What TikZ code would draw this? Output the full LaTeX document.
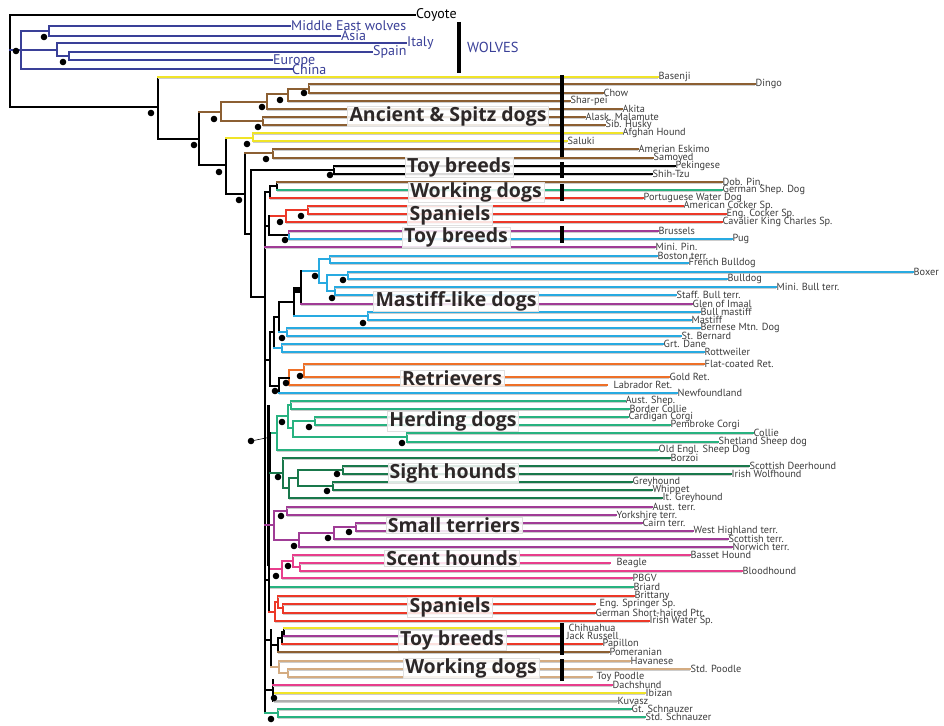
\documentclass[tikz,border=0pt]{standalone}
\usepackage{fontspec}
\setmainfont{PT Sans}
\newfontfamily\grpfont{Open Sans}
\definecolor{wolf}{RGB}{58,64,152}
\definecolor{yel}{RGB}{240,228,40}
\definecolor{brn}{RGB}{140,95,50}
\definecolor{grn}{RGB}{40,178,128}
\definecolor{dgr}{RGB}{25,120,75}
\definecolor{rd}{RGB}{236,56,40}
\definecolor{pur}{RGB}{160,60,150}
\definecolor{lbl}{RGB}{40,170,225}
\definecolor{org}{RGB}{238,112,40}
\definecolor{pnk}{RGB}{232,62,140}
\definecolor{tanc}{RGB}{212,172,130}
\definecolor{gry}{RGB}{175,175,175}
\definecolor{txt}{RGB}{60,60,60}
\definecolor{grpc}{RGB}{45,40,40}
\tikzset{
  br/.style={line width=1.7pt, line cap=rect},
  shd/.style={line width=0.9pt, black!20},
  lab/.style={font=\fontsize{10.3}{10}\selectfont, text=txt, anchor=west, inner sep=0.5pt},
  wlab/.style={font=\fontsize{14}{14}\selectfont, text=wolf, anchor=west, inner sep=1pt},
  grp/.style={font=\grpfont\bfseries\fontsize{19.5}{20}\selectfont, text=grpc, fill=white, fill opacity=0.85, text opacity=1, draw=black!12, line width=0.4pt, inner xsep=2pt, inner ysep=0.5pt},
  barline/.style={line width=4pt},
}
\newcommand\lf[7][]{\node[lab,#1] (#2) at (#5,#3) {#7};\draw[shd] (#4,#3+1.6) -- (#5,#3+1.6);\draw[br,#6] (#4,#3) -- (#5,#3);}
\newcommand\dt[2]{\fill (#1,#2) circle (3.3pt);}
\begin{document}
\begin{tikzpicture}[x=1pt,y=-1pt]
\useasboundingbox[fill=white] (0,0) rectangle (944,725);
% ---------- root and coyote
\node[wlab,text=black] (coy) at (415,15) {Coyote};
\draw[br] (coy.west) -- (10,15) -- (10,107) -- (158,107);
% ---------- wolves
\draw[br,wolf] (10,50) -- (21,50);
\draw[br,wolf] (21,31) -- (21,69);
\draw[br,wolf] (21,31) -- (49,31);
\draw[br,wolf] (49,26) -- (49,36);
\draw[br,wolf] (21,50) -- (57,50);
\draw[br,wolf] (57,43) -- (57,56) -- (69,56);
\draw[br,wolf] (69,52) -- (69,60);
\node[wlab] (mew) at (290,26) {Middle East wolves};
\node[wlab] (asia) at (340,36) {Asia};
\node[wlab] (italy) at (406,43) {Italy};
\node[wlab] (spain) at (372,52) {Spain};
\node[wlab] (europe) at (272,61) {Europe};
\node[wlab] (china) at (291,70) {China};
\draw[br,wolf] (49,26) -- (mew.west);
\draw[br,wolf] (49,36) -- (asia.west);
\draw[br,wolf] (57,43) -- (italy.west);
\draw[br,wolf] (69,52) -- (spain.west);
\draw[br,wolf] (69,60) -- (272,60);
\draw[br,wolf] (21,69) -- (292,69);
\dt{44}{37}\dt{63}{62}\dt{16}{51}
\draw[barline] (459,22) -- (459,73);
\node[wlab,font=\fontsize{14.5}{14}\selectfont] (wolves) at (466,47) {WOLVES};
% ---------- dogs: backbone
\dt{151}{113}
\draw[br] (158,77) -- (158,139) -- (199,139);
\lf{basenji}{77}{158}{658}{yel}{Basenji}
\dt{194}{145}
\draw[br] (199,112) -- (199,165) -- (226,165);
% ancient & spitz
\draw[br,brn] (199,112) -- (221,112);
\draw[br,brn] (221,102) -- (221,121);
\draw[br,brn] (221,102) -- (267,102);
\draw[br,brn] (267,94) -- (267,109);
\draw[br,brn] (267,94) -- (288,94);
\draw[br,brn] (288,89) -- (288,101);
\draw[br,brn] (288,89) -- (309,89);
\draw[br,brn] (309,84) -- (309,93);
\draw[br,brn] (221,121) -- (263,121);
\draw[br,brn] (263,117) -- (263,125);
\lf{dingo}{84}{309}{755}{brn}{Dingo}
\lf{chow}{93}{309}{603}{brn}{Chow}
\lf{sharpei}{101}{288}{570}{brn}{Shar-pei}
\lf{akita}{109}{267}{622}{brn}{Akita}
\lf{alask}{117}{263}{585}{brn}{Alask. Malamute}
\lf{sib}{125}{263}{605}{brn}{Sib. Husky}
\dt{214}{119}\dt{262}{107}\dt{280}{100}\dt{304}{93}\dt{258}{127}
% afghan / saluki
\dt{219}{172}
\draw[br] (226,138) -- (226,194) -- (245,194);
\draw[br,yel] (226,138) -- (253,138);
\draw[br,yel] (253,133) -- (253,141);
\lf{afghan}{133}{253}{622}{yel}{Afghan Hound}
\lf{saluki}{141}{253}{567}{yel}{Saluki}
\dt{247}{144}
% eskimo / samoyed
\dt{239}{200}
\draw[br] (245,153) -- (245,234) -- (251,234);
\draw[br,brn] (245,153) -- (273,153);
\draw[br,brn] (273,149) -- (273,158);
\lf{eskimo}{149}{273}{638}{brn}{Amerian Eskimo}
\lf{samoyed}{158}{273}{653}{brn}{Samoyed}
\dt{266}{159}
% toy breeds 1
\draw[br] (251,170) -- (251,297) -- (265,297);
\draw[br] (251,170) -- (334,170);
\draw[br] (334,166) -- (334,174);
\lf{peking}{166}{334}{675}{black}{Pekingese}
\lf{shihtzu}{174}{334}{652}{black}{Shih-Tzu}
\dt{330}{175}
% ---------- main spine
\draw[br] (265,192) -- (265,713);
% dob / german / portuguese
\draw[br] (265,192) -- (270,192);
\draw[br] (270,186) -- (270,198);
\draw[br] (270,186) -- (277,186);
\draw[br] (277,182) -- (277,190);
\lf{dob}{182}{277}{722}{brn}{Dob. Pin.}
\lf{gsd}{190}{277}{722}{grn}{German Shep. Dog}
\lf{pwd}{198}{270}{643}{rd}{Portuguese Water Dog}
% spaniels 1
\draw[br,rd] (308,206) -- (308,214);
\draw[br,rd] (286,210) -- (308,210);
\draw[br,rd] (286,210) -- (286,222);
\draw[br,rd] (269,216) -- (286,216);
\lf{acs}{206}{308}{683}{rd}{American Cocker Sp.}
\lf{ecs}{214}{308}{726}{rd}{Eng. Cocker Sp.}
\lf{cav}{222}{286}{722}{rd}{Cavalier King Charles Sp.}
\dt{301}{216}\dt{280}{222}
% toy breeds 2
\draw[br] (269,216) -- (269,235) -- (289,235);
\draw[br] (265,226) -- (269,226);
\draw[br,pur] (289,231) -- (289,235);
\draw[br,lbl] (289,235) -- (289,239);
\lf{brussels}{231}{289}{658}{pur}{Brussels}
\lf{pug}{239}{289}{732}{lbl}{Pug}
\lf{minipin}{247}{265}{655}{pur}{Mini. Pin.}
\dt{285}{240}
% mastiff-like
\draw[br,lbl] (330,256) -- (330,263);
\draw[br,lbl] (319,259) -- (330,259);
\draw[br,lbl] (348,272) -- (348,279);
\draw[br,lbl] (335,287) -- (335,295);
\draw[br,lbl] (327,275) -- (327,291);
\draw[br,lbl] (327,275) -- (348,275);
\draw[br,lbl] (327,291) -- (335,291);
\draw[br,lbl] (319,259) -- (319,283) -- (327,283);
\draw[br,lbl] (301,271) -- (319,271);
\draw[br] (301,271) -- (301,304);
\fill (295,287) rectangle (301,293);
\lf{boston}{256}{330}{657}{lbl}{Boston terr.}
\lf{french}{263}{330}{688}{lbl}{French Bulldog}
\lf{boxer}{272}{348}{913}{lbl}{Boxer}
\lf{bulldog}{279}{348}{727}{lbl}{Bulldog}
\lf{minibull}{287}{335}{776}{lbl}{Mini. Bull terr.}
\lf{staff}{295}{335}{676}{lbl}{Staff. Bull terr.}
\lf{glen}{304}{301}{692}{pur}{Glen of Imaal}
\dt{343}{280}\dt{332}{298}\dt{315}{276}
\draw[br] (294,288) -- (301,288);
\draw[br] (294,288) -- (294,316);
\draw[br,lbl] (294,316) -- (368,316);
\draw[br,lbl] (368,312) -- (368,320);
\lf{bullmas}{312}{368}{700}{lbl}{Bull mastiff}
\lf{mastiff}{320}{368}{691}{lbl}{Mastiff}
\dt{363}{323}
\draw[br] (279,302) -- (294,302);
\draw[br] (279,302) -- (279,332);
\draw[br,lbl] (279,332) -- (287,332);
\draw[br,lbl] (287,328) -- (287,336);
\lf{bernese}{328}{287}{700}{lbl}{Bernese Mtn. Dog}
\lf{stbern}{336}{287}{681}{lbl}{St. Bernard}
\dt{282}{338}
\draw[br] (274,317) -- (279,317);
\draw[br] (274,317) -- (274,348);
\draw[br,lbl] (274,348) -- (282,348);
\draw[br,lbl] (282,344) -- (282,352);
\lf{dane}{344}{282}{663}{lbl}{Grt. Dane}
\lf{rott}{352}{282}{704}{lbl}{Rottweiler}
\draw[br] (270,332) -- (274,332);
\draw[br] (270,332) -- (270,386);
\draw[br] (265,360) -- (270,360);
% retrievers
\draw[br,org] (304,364) -- (304,377);
\draw[br,org] (289,370) -- (304,370);
\draw[br,org] (289,370) -- (289,385);
\draw[br] (279,378) -- (289,378);
\draw[br] (279,378) -- (279,393);
\draw[br] (270,386) -- (279,386);
\lf{flat}{364}{304}{704}{org}{Flat-coated Ret.}
\lf{gold}{377}{304}{669}{org}{Gold Ret.}
\lf[xshift=6pt]{lab}{385}{289}{607}{org}{Labrador Ret.}
\lf{newf}{393}{279}{677}{lbl}{Newfoundland}
\dt{300}{376}\dt{286}{383}\dt{275}{391}
% herding
\draw[line width=3pt] (268,405) -- (268,566);
\draw[br,grn] (291,401) -- (291,409);
\draw[br,grn] (288,405) -- (291,405);
\draw[br,grn] (288,405) -- (288,428) -- (293,428);
\draw[br,grn] (315,417) -- (315,425);
\draw[br,grn] (407,433) -- (407,442);
\draw[br,grn] (293,421) -- (293,437);
\draw[br,grn] (293,421) -- (315,421);
\draw[br,grn] (293,437) -- (407,437);
\draw[br,grn] (277,416) -- (288,416);
\draw[br,grn] (277,416) -- (277,450);
\draw[br,grn] (270,433) -- (277,433);
\lf{aust}{401}{291}{625}{grn}{Aust. Shep.}
\lf{border}{409}{291}{629}{grn}{Border Collie}
\lf{cardigan}{417}{315}{628}{grn}{Cardigan Corgi}
\lf{pembroke}{425}{315}{670}{grn}{Pembroke Corgi}
\lf{collie}{433}{407}{753}{grn}{Collie}
\lf{shetland}{442}{407}{718}{grn}{Shetland Sheep dog}
\lf{oldengl}{450}{277}{658}{grn}{Old Engl. Sheep Dog}
\dt{309}{427}\dt{402}{443}\dt{282}{422}
\dt{251}{441}
\draw[line width=0.6pt] (251,441) -- (271,437);
% sight hounds
\draw[br] (270,433) -- (270,473);
\draw[br,dgr] (343,466) -- (343,474);
\draw[br,dgr] (333,482) -- (333,490);
\draw[br,dgr] (298,470) -- (298,486);
\draw[br,dgr] (298,470) -- (343,470);
\draw[br,dgr] (298,486) -- (333,486);
\draw[br,dgr] (289,478) -- (298,478);
\draw[br,dgr] (289,478) -- (289,498);
\draw[br,dgr] (283,458) -- (283,488) -- (289,488);
\draw[br,dgr] (270,473) -- (283,473);
\lf{borzoi}{458}{283}{670}{dgr}{Borzoi}
\lf{deer}{466}{343}{749}{dgr}{Scottish Deerhound}
\lf{irish}{474}{343}{731}{dgr}{Irish Wolfhound}
\lf{grey}{482}{333}{632}{dgr}{Greyhound}
\lf{whippet}{490}{333}{652}{dgr}{Whippet}
\lf{itgrey}{498}{289}{662}{dgr}{It. Greyhound}
\dt{337}{474}\dt{327}{491}\dt{278}{477}
% small terriers
\draw[br,pur] (287,507) -- (287,515);
\draw[br,pur] (356,523) -- (356,531);
\draw[br,pur] (334,527) -- (356,527);
\draw[br,pur] (334,527) -- (334,539);
\draw[br,pur] (299,533) -- (334,533);
\draw[br,pur] (299,533) -- (299,547);
\draw[br,pur] (274,511) -- (287,511);
\draw[br,pur] (274,511) -- (274,540) -- (299,540);
\draw[br,pur] (265,525) -- (274,525);
\lf{austterr}{507}{287}{652}{pur}{Aust. terr.}
\lf{york}{515}{287}{616}{pur}{Yorkshire terr.}
\lf{cairn}{523}{356}{642}{pur}{Cairn terr.}
\lf{westh}{531}{356}{693}{pur}{West Highland terr.}
\lf{scott}{539}{334}{728}{pur}{Scottish terr.}
\lf{norwich}{547}{299}{732}{pur}{Norwich terr.}
\dt{281}{516}\dt{349}{532}\dt{328}{538}\dt{294}{546}
% scent hounds
\draw[br,pnk] (300,563) -- (300,571);
\draw[br,pnk] (293,567) -- (300,567);
\draw[br,pnk] (293,555) -- (293,567);
\draw[br,pnk] (282,561) -- (293,561);
\draw[br,pnk] (282,561) -- (282,578);
\draw[br,pnk] (269,569) -- (282,569);
\lf{basset}{555}{293}{690}{pnk}{Basset Hound}
\lf[xshift=6pt]{beagle}{563}{300}{610}{pnk}{Beagle}
\lf{blood}{571}{300}{742}{pnk}{Bloodhound}
\lf{pbgv}{578}{282}{632}{pnk}{PBGV}
\dt{288}{566}\dt{276}{576}
\lf{briard}{587}{269}{633}{grn}{Briard}
\draw[br] (265,580) -- (269,580);
\draw[br] (269,566) -- (269,612);
% spaniels 2
\draw[br,rd] (283,604) -- (283,613);
\draw[br,rd] (278,608) -- (283,608);
\draw[br,rd] (278,596) -- (278,608);
\draw[br,rd] (275,602) -- (278,602);
\draw[br,rd] (275,602) -- (275,621);
\draw[br,rd] (269,612) -- (275,612);
\lf{britt}{596}{278}{634}{rd}{Brittany}
\lf[xshift=4pt]{springer}{604}{283}{595}{rd}{Eng. Springer Sp.}
\lf{gsp}{613}{283}{595}{rd}{German Short-haired Ptr.}
\lf{iws}{621}{275}{649}{rd}{Irish Water Sp.}
% toy breeds 3
\draw[br] (284,628) -- (284,636);
\draw[br] (282,632) -- (284,632);
\draw[br] (282,632) -- (282,644);
\draw[br] (278,638) -- (282,638);
\draw[br] (278,638) -- (278,652);
\draw[br] (271,645) -- (278,645);
\draw[br] (271,630) -- (271,667);
\draw[br] (265,640) -- (271,640);
\lf[xshift=6pt]{chihua}{628}{284}{562}{yel}{Chihuahua}
\lf[xshift=4pt]{jack}{636}{284}{562}{pur}{Jack Russell}
\lf{papillon}{644}{282}{602}{rd}{Papillon}
\lf{pomer}{652}{278}{609}{brn}{Pomeranian}
% working dogs 2
\draw[br,tanc] (288,669) -- (288,677);
\draw[br,tanc] (279,673) -- (288,673);
\draw[br,tanc] (279,661) -- (279,673);
\draw[br,tanc] (271,667) -- (279,667);
\lf{havan}{661}{279}{630}{tanc}{Havanese}
\lf{stdpoo}{669}{288}{690}{tanc}{Std. Poodle}
\lf[xshift=4pt]{toypoo}{677}{288}{592}{tanc}{Toy Poodle}
% the rest
\draw[br] (273,680) -- (273,701);
\draw[br] (265,690) -- (273,690);
\lf{dachs}{685}{273}{612}{pnk}{Dachshund}
\lf{ibizan}{693}{275}{645}{yel}{Ibizan}
\lf{kuvasz}{701}{274}{617}{gry}{Kuvasz}
\dt{274}{698}
\draw[br,grn] (265,713) -- (278,713);
\draw[br,grn] (278,709) -- (278,717);
\lf{gtsch}{709}{278}{631}{grn}{Gt. Schnauzer}
\lf{stdsch}{717}{278}{645}{grn}{Std. Schnauzer}
\dt{271}{719}
% ---------- bars
\draw[barline] (562,75) -- (562,157);
\draw[barline] (562,162) -- (562,178);
\draw[barline] (562,184) -- (562,201);
\draw[barline] (562,226) -- (562,243);
\draw[barline] (562,623) -- (562,655);
\draw[barline] (562,659) -- (562,681);
% ---------- group labels
\node[grp] (g1) at (448,116) {Ancient \& Spitz dogs};
\node[grp] (g2) at (459,167) {Toy breeds};
\node[grp] (g3) at (476,192) {Working dogs};
\node[grp] (g4) at (450,215) {Spaniels};
\node[grp] (g5) at (456,237) {Toy breeds};
\node[grp] (g6) at (456,301) {Mastiff-like dogs};
\node[grp] (g7) at (452,378) {Retrievers};
\node[grp] (g8) at (453,421) {Herding dogs};
\node[grp] (g9) at (453,473) {Sight hounds};
\node[grp] (g10) at (454,525) {Small terriers};
\node[grp] (g11) at (452,558) {Scent hounds};
\node[grp] (g12) at (450,607) {Spaniels};
\node[grp] (g13) at (452,640) {Toy breeds};
\node[grp] (g14) at (471,668) {Working dogs};
\end{tikzpicture}
\end{document}
